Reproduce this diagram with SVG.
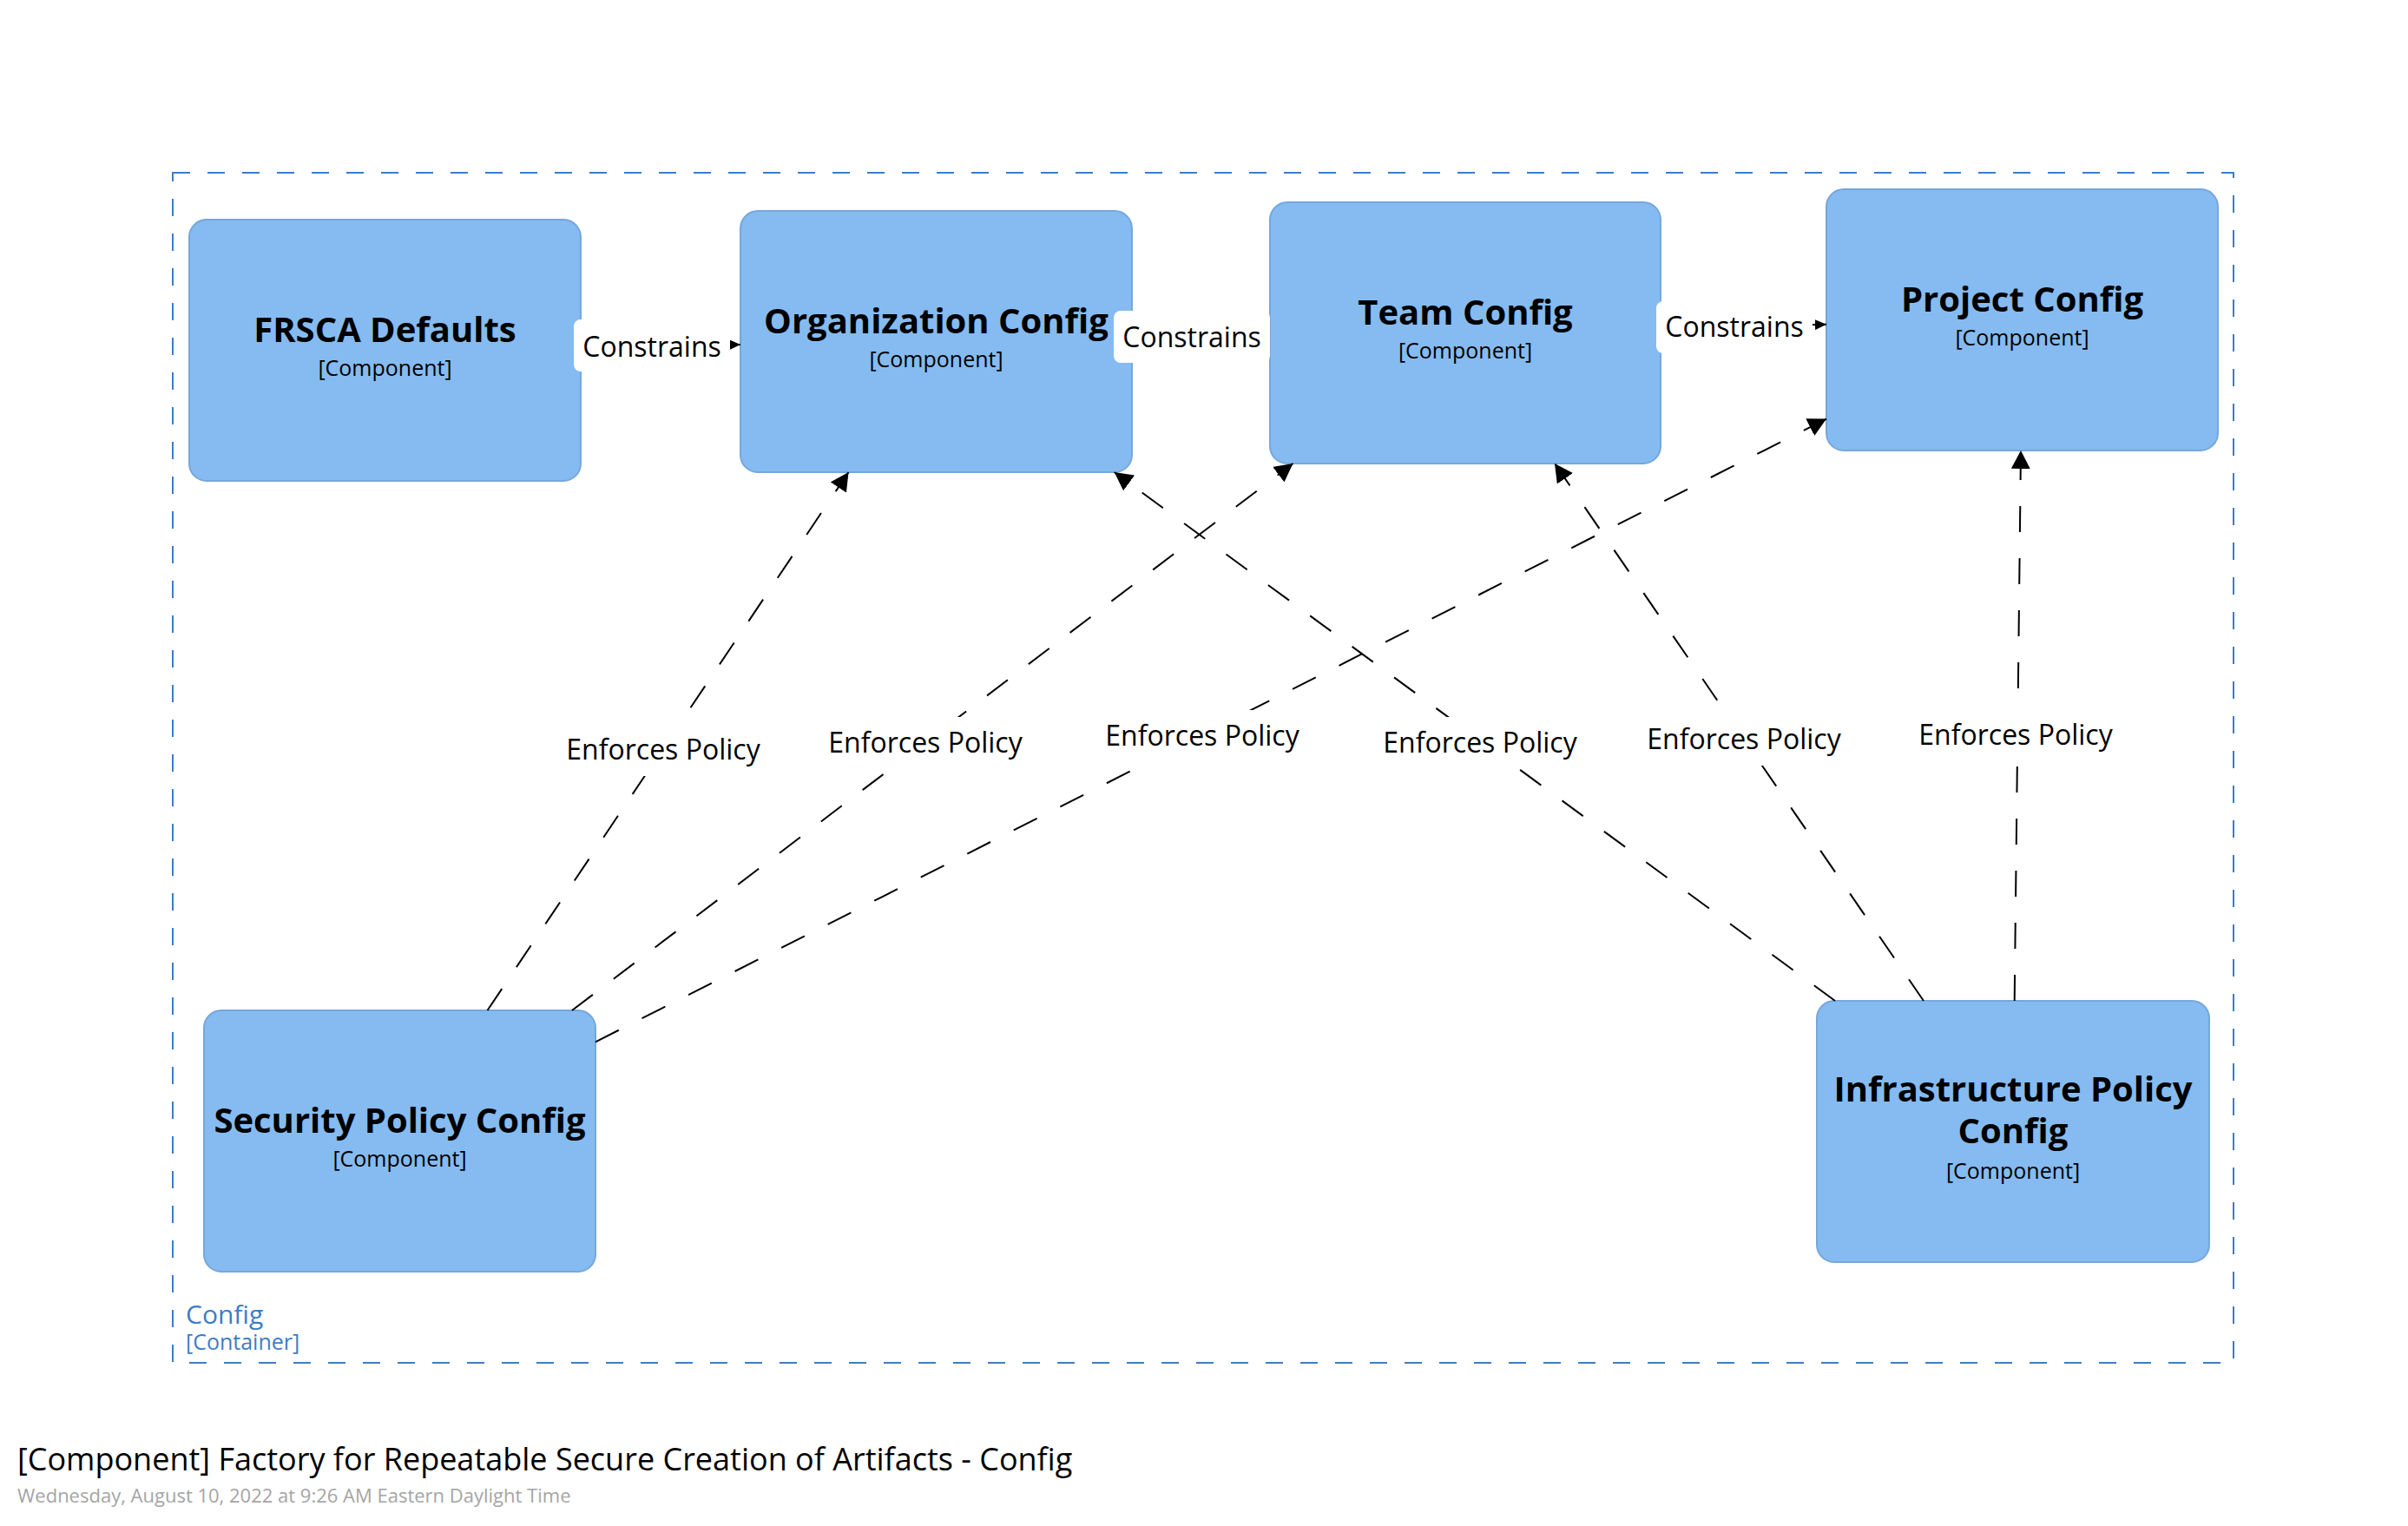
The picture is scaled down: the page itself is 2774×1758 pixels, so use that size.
<svg xmlns="http://www.w3.org/2000/svg" width="2774" height="1758" viewBox="0 0 2774 1758">
<style>
text{font-family:"Open Sans","Liberation Sans",sans-serif}
.node{fill:#85bbf0;stroke:#76a7dc;stroke-width:2}
.name{font-size:40px;font-weight:bold;fill:#000;text-anchor:middle}
.type{font-size:25px;fill:#000;text-anchor:middle}
.rel{stroke:#000;stroke-width:2;fill:none}
.dash{stroke-dasharray:30 30}
.lbox{fill:#fff;stroke:none}
.lbl{font-size:32px;fill:#000;text-anchor:middle}
.boundary{fill:none;stroke:#3d7dc5;stroke-width:2;stroke-dasharray:20 20}
.btext{fill:#3d7dc5}
</style>
<defs>
<marker id="arrowBig" markerUnits="userSpaceOnUse" markerWidth="22" markerHeight="22" refX="21" refY="11" orient="auto">
<path d="M0,0 L21,11 L0,22 Z" fill="#000"/>
</marker>
<marker id="arrowSmall" markerUnits="userSpaceOnUse" markerWidth="14" markerHeight="12" refX="13" refY="6" orient="auto">
<path d="M0,0 L13,6 L0,12 Z" fill="#000"/>
</marker>
</defs>
<rect width="2774" height="1758" fill="#fff"/>

<g id="container-config">
<rect class="boundary" x="199" y="199" width="2374" height="1371"/>
<text class="btext" x="214" y="1525" font-size="30">Config</text>
<text class="btext" x="214" y="1555" font-size="25">[Container]</text>
</g>

<g id="node-frsca-defaults">
<rect class="node" x="218" y="253" width="451" height="301" rx="20"/>
<text class="name" x="443.5" y="394">FRSCA Defaults</text>
<text class="type" x="443.5" y="433">[Component]</text>
</g>
<g id="node-organization-config">
<rect class="node" x="853" y="243" width="451" height="301" rx="20"/>
<text class="name" x="1078.5" y="384">Organization Config</text>
<text class="type" x="1078.5" y="423">[Component]</text>
</g>
<g id="node-team-config">
<rect class="node" x="1463" y="233" width="450" height="301" rx="20"/>
<text class="name" x="1688" y="374">Team Config</text>
<text class="type" x="1688" y="413">[Component]</text>
</g>
<g id="node-project-config">
<rect class="node" x="2104" y="218" width="451" height="301" rx="20"/>
<text class="name" x="2329.5" y="359">Project Config</text>
<text class="type" x="2329.5" y="398">[Component]</text>
</g>
<g id="node-security-policy-config">
<rect class="node" x="235" y="1164" width="451" height="301" rx="20"/>
<text class="name" x="460.5" y="1305">Security Policy Config</text>
<text class="type" x="460.5" y="1344">[Component]</text>
</g>
<g id="node-infrastructure-policy-config">
<rect class="node" x="2093" y="1153" width="452" height="301" rx="20"/>
<text class="name" x="2319" y="1269">Infrastructure Policy</text>
<text class="name" x="2319" y="1317">Config</text>
<text class="type" x="2319" y="1358">[Component]</text>
</g>

<g id="connectors">
<line class="rel" x1="669" y1="400" x2="853" y2="397" marker-end="url(#arrowSmall)"/>
<line class="rel" x1="1304" y1="389.8" x2="1463" y2="387.2" marker-end="url(#arrowSmall)"/>
<line class="rel" x1="1913" y1="378.2" x2="2104" y2="373.8" marker-end="url(#arrowSmall)"/>
<line class="rel dash" x1="561.5" y1="1164" x2="977.5" y2="544" marker-end="url(#arrowBig)"/>
<line class="rel dash" x1="659" y1="1164" x2="1489.5" y2="534" marker-end="url(#arrowBig)"/>
<line class="rel dash" x1="686" y1="1200.3" x2="2104" y2="482.6" marker-end="url(#arrowBig)"/>
<line class="rel dash" x1="2114" y1="1153" x2="1283.7" y2="544" marker-end="url(#arrowBig)"/>
<line class="rel dash" x1="2216" y1="1153" x2="1791" y2="534" marker-end="url(#arrowBig)"/>
<line class="rel dash" x1="2320.7" y1="1153" x2="2328" y2="519" marker-end="url(#arrowBig)"/>

<rect class="lbox" x="661" y="368" width="180" height="60" rx="8"/>
<text class="lbl" x="751" y="411">Constrains</text>
<rect class="lbox" x="1283" y="358" width="180" height="60" rx="8"/>
<text class="lbl" x="1373" y="400">Constrains</text>
<rect class="lbox" x="1908" y="347" width="180" height="60" rx="8"/>
<text class="lbl" x="1998" y="388">Constrains</text>

<rect class="lbox" x="641" y="834" width="246" height="60" rx="8"/>
<text class="lbl" x="764" y="875">Enforces Policy</text>
<rect class="lbox" x="943" y="826" width="246" height="60" rx="8"/>
<text class="lbl" x="1066" y="867">Enforces Policy</text>
<rect class="lbox" x="1262" y="818" width="246" height="60" rx="8"/>
<text class="lbl" x="1385" y="859">Enforces Policy</text>
<rect class="lbox" x="1582" y="826" width="246" height="60" rx="8"/>
<text class="lbl" x="1705" y="867">Enforces Policy</text>
<rect class="lbox" x="1886" y="822" width="246" height="60" rx="8"/>
<text class="lbl" x="2009" y="863">Enforces Policy</text>
<rect class="lbox" x="2199" y="817" width="246" height="60" rx="8"/>
<text class="lbl" x="2322" y="858">Enforces Policy</text>
</g>

<g id="title">
<text x="20" y="1694" font-size="36" fill="#000">[Component] Factory for Repeatable Secure Creation of Artifacts - Config</text>
<text x="20" y="1731" font-size="22" fill="#a5a5a5">Wednesday, August 10, 2022 at 9:26 AM Eastern Daylight Time</text>
</g>
</svg>
